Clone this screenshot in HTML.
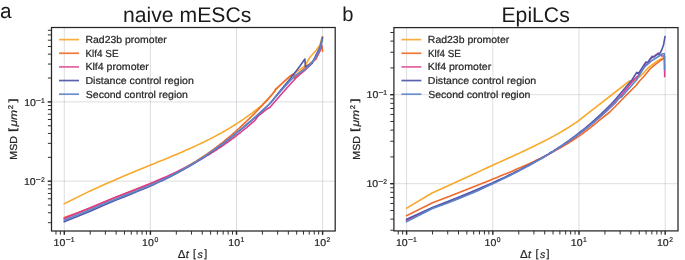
<!DOCTYPE html>
<html><head><meta charset="utf-8"><style>html,body{margin:0;padding:0;background:#fff;overflow:hidden}svg{display:block} .wrap{will-change:transform}</style></head>
<body><div class="wrap"><svg width="685" height="260" viewBox="0 0 685 260">
<rect width="685" height="260" fill="#fff"/>
<line x1="64.30" y1="27.50" x2="64.30" y2="231.00" stroke="#a0a4b0" stroke-opacity="0.36" stroke-width="1"/>
<line x1="150.40" y1="27.50" x2="150.40" y2="231.00" stroke="#a0a4b0" stroke-opacity="0.36" stroke-width="1"/>
<line x1="236.50" y1="27.50" x2="236.50" y2="231.00" stroke="#a0a4b0" stroke-opacity="0.36" stroke-width="1"/>
<line x1="322.60" y1="27.50" x2="322.60" y2="231.00" stroke="#a0a4b0" stroke-opacity="0.36" stroke-width="1"/>
<line x1="51.50" y1="181.20" x2="335.20" y2="181.20" stroke="#a0a4b0" stroke-opacity="0.36" stroke-width="1"/>
<line x1="51.50" y1="101.90" x2="335.20" y2="101.90" stroke="#a0a4b0" stroke-opacity="0.36" stroke-width="1"/>
<line x1="406.60" y1="27.60" x2="406.60" y2="230.90" stroke="#a0a4b0" stroke-opacity="0.36" stroke-width="1"/>
<line x1="492.80" y1="27.60" x2="492.80" y2="230.90" stroke="#a0a4b0" stroke-opacity="0.36" stroke-width="1"/>
<line x1="579.00" y1="27.60" x2="579.00" y2="230.90" stroke="#a0a4b0" stroke-opacity="0.36" stroke-width="1"/>
<line x1="665.20" y1="27.60" x2="665.20" y2="230.90" stroke="#a0a4b0" stroke-opacity="0.36" stroke-width="1"/>
<line x1="393.90" y1="183.70" x2="678.00" y2="183.70" stroke="#a0a4b0" stroke-opacity="0.36" stroke-width="1"/>
<line x1="393.90" y1="94.70" x2="678.00" y2="94.70" stroke="#a0a4b0" stroke-opacity="0.36" stroke-width="1"/>
<polyline points="64.3,203.8 90.2,190.9 105.4,184.1 116.1,179.4 124.5,175.8 131.3,173.0 137.1,170.6 142.1,168.5 146.5,166.7 150.4,165.1 154.0,163.7 157.2,162.3 160.2,161.1 163.0,160.0 165.6,158.9 168.0,157.9 170.2,156.9 172.4,156.0 174.4,155.2 176.3,154.4 179.9,152.9 183.1,151.5 186.1,150.1 188.9,148.9 191.5,147.8 193.9,146.7 196.2,145.6 198.3,144.6 200.3,143.7 202.2,142.7 204.1,141.9 205.8,141.0 207.5,140.2 209.1,139.4 210.6,138.6 212.0,137.9 213.5,137.1 214.8,136.4 216.1,135.7 217.4,135.0 218.6,134.4 219.8,133.7 221.0,133.1 222.1,132.5 223.2,131.8 224.2,131.2 225.2,130.7 226.2,130.1 227.2,129.5 228.2,129.0 229.1,128.4 230.0,127.9 230.9,127.3 231.7,126.8 232.6,126.3 233.4,125.8 234.2,125.3 235.0,124.8 235.7,124.3 236.5,123.8 238.3,122.6 240.1,121.5 241.7,120.4 243.3,119.3 244.8,118.2 246.3,117.2 247.7,116.2 249.1,115.2 250.4,114.2 251.7,113.3 252.9,112.4 254.1,111.4 255.2,110.6 256.3,109.7 257.4,108.8 258.5,108.0 259.5,107.1 260.5,106.3 261.5,105.5 262.0,105.1 272.0,94.5 280.0,85.0 290.0,77.0 296.0,72.4 300.0,69.5 305.0,65.5 310.0,57.2 316.0,50.5 320.0,45.0 322.3,36.5" fill="none" stroke="#f8a92b" stroke-width="1.6" stroke-linejoin="round" stroke-linecap="square"/>
<polyline points="64.3,217.5 90.2,208.3 105.4,201.5 116.1,197.2 124.5,194.0 131.3,191.5 137.1,189.3 142.1,187.4 146.5,185.6 150.4,184.0 154.0,182.6 157.2,181.2 160.2,179.9 163.0,178.7 165.6,177.5 168.0,176.4 170.2,175.3 172.4,174.2 174.4,173.2 176.3,172.3 179.9,170.4 183.1,168.7 186.1,167.0 188.9,165.4 191.5,163.9 193.9,162.5 196.2,161.1 198.3,159.7 200.3,158.4 202.2,157.2 204.1,156.0 205.8,154.8 207.5,153.6 209.1,152.5 210.6,151.4 212.0,150.4 213.5,149.3 214.8,148.3 216.1,147.4 217.4,146.4 218.6,145.5 219.8,144.5 221.0,143.6 222.1,142.8 223.2,141.9 224.2,141.0 225.2,140.2 226.2,139.4 227.2,138.6 228.2,137.8 229.1,137.0 230.0,136.3 230.9,135.5 231.7,134.8 232.6,134.1 233.4,133.4 234.2,132.7 235.0,132.0 235.7,131.3 236.5,130.6 238.3,129.0 240.1,127.4 241.7,125.9 243.3,124.4 244.8,122.9 246.3,121.5 247.7,120.2 249.1,118.9 250.4,117.6 251.7,116.3 252.9,115.1 254.1,113.9 255.2,112.7 256.3,111.6 257.4,110.5 258.5,109.4 259.5,108.3 260.5,107.3 261.5,106.3 262.4,105.3 263.3,104.3 264.2,103.3 265.1,102.4 266.0,101.5 266.8,100.5 267.0,100.4 272.0,94.5 275.0,90.8 275.4,89.3 280.0,85.5 285.0,80.5 290.0,76.0 294.0,73.8 294.4,78.5 300.0,72.0 305.0,67.5 310.0,63.5 316.0,59.0 320.0,51.0 321.8,45.0 322.6,51.0" fill="none" stroke="#ee6b2b" stroke-width="1.6" stroke-linejoin="round" stroke-linecap="square"/>
<polyline points="64.3,218.6 90.2,207.8 105.4,201.4 116.1,197.0 124.5,193.7 131.3,191.1 137.1,188.8 142.1,186.8 146.5,185.0 150.4,183.4 154.0,182.0 157.2,180.6 160.2,179.3 163.0,178.1 165.6,177.0 168.0,175.9 170.2,174.9 172.4,173.9 174.4,173.0 176.3,172.1 179.9,170.3 183.1,168.7 186.1,167.2 188.9,165.8 191.5,164.5 193.9,163.2 196.2,161.9 198.3,160.8 200.3,159.6 202.2,158.5 204.1,157.5 205.8,156.4 207.5,155.4 209.1,154.5 210.6,153.5 212.0,152.6 213.5,151.7 214.8,150.9 216.1,150.0 217.4,149.2 218.6,148.4 219.8,147.6 221.0,146.8 222.1,146.1 223.2,145.3 224.2,144.6 225.2,143.9 226.2,143.2 227.2,142.5 228.2,141.8 229.1,141.2 230.0,140.5 230.9,139.9 231.7,139.2 232.6,138.6 233.4,138.0 234.2,137.4 235.0,136.8 235.7,136.2 236.5,135.6 238.3,134.2 240.1,132.8 241.7,131.5 243.3,130.2 244.8,129.0 246.3,127.8 247.7,126.6 249.1,125.4 250.4,124.3 251.7,123.2 252.9,122.1 254.1,121.1 255.0,120.2 258.0,116.2 266.5,109.3 270.0,107.2 281.5,94.0 290.0,84.5 296.0,78.0 300.0,74.5 305.0,70.1 310.0,65.5 316.0,58.0 322.0,46.5" fill="none" stroke="#dd3c8c" stroke-width="1.6" stroke-linejoin="round" stroke-linecap="square"/>
<polyline points="64.3,221.7 90.2,211.2 105.4,204.4 116.1,200.0 124.5,196.7 131.3,193.9 137.1,191.6 142.1,189.5 146.5,187.7 150.4,186.0 154.0,184.4 157.2,182.9 160.2,181.5 163.0,180.2 165.6,179.0 168.0,177.8 170.2,176.7 172.4,175.6 174.4,174.5 176.3,173.5 179.9,171.6 183.1,169.8 186.1,168.1 188.9,166.5 191.5,165.0 193.9,163.5 196.2,162.1 198.3,160.8 200.3,159.5 202.2,158.3 204.1,157.1 205.8,155.9 207.5,154.8 209.1,153.7 210.6,152.7 212.0,151.7 213.5,150.7 214.8,149.7 216.1,148.8 217.4,147.9 218.6,147.0 219.8,146.1 221.0,145.3 222.1,144.4 223.2,143.6 224.2,142.8 225.2,142.0 226.2,141.3 227.2,140.5 228.2,139.8 229.1,139.1 230.0,138.4 230.9,137.7 231.7,137.0 232.6,136.4 233.4,135.7 234.2,135.1 235.0,134.4 235.7,133.8 236.5,133.2 238.3,131.7 240.1,130.3 241.7,128.9 243.3,127.6 244.8,126.3 246.3,125.1 247.7,123.9 249.1,122.7 250.4,121.6 251.7,120.5 252.9,119.4 254.1,118.4 255.0,117.6 270.0,103.5 280.0,91.0 290.0,79.0 296.0,71.3 300.0,65.9 304.9,59.0 305.4,66.7 312.0,63.5 316.0,55.0 320.0,47.0 322.6,37.5" fill="none" stroke="#5257ad" stroke-width="1.6" stroke-linejoin="round" stroke-linecap="square"/>
<polyline points="64.3,220.3 90.2,209.8 105.4,203.2 116.1,198.9 124.5,195.6 131.3,193.0 137.1,190.7 142.1,188.7 146.5,186.9 150.4,185.2 154.0,183.7 157.2,182.2 160.2,180.9 163.0,179.6 165.6,178.4 168.0,177.2 170.2,176.1 172.4,175.0 174.4,174.0 176.3,173.0 179.9,171.1 183.1,169.3 186.1,167.6 188.9,166.1 191.5,164.5 193.9,163.1 196.2,161.7 198.3,160.4 200.3,159.1 202.2,157.9 204.1,156.7 205.8,155.5 207.5,154.4 209.1,153.3 210.6,152.3 212.0,151.2 213.5,150.3 214.8,149.3 216.1,148.4 217.4,147.4 218.6,146.6 219.8,145.7 221.0,144.8 222.1,144.0 223.2,143.2 224.2,142.4 225.2,141.6 226.2,140.9 227.2,140.1 228.2,139.4 229.1,138.7 230.0,138.0 230.9,137.3 231.7,136.6 232.6,135.9 233.4,135.3 234.2,134.6 235.0,134.0 235.7,133.4 236.5,132.8 238.3,131.3 240.1,129.8 241.7,128.5 243.3,127.1 244.8,125.9 246.3,124.6 247.7,123.4 249.1,122.2 250.4,121.1 251.7,120.0 252.9,119.0 254.1,117.9 255.0,117.1 270.0,103.5 280.0,92.0 290.0,81.0 296.0,75.0 300.0,72.5 305.0,69.6 310.0,65.0 316.0,57.0 320.0,49.0 322.5,40.0" fill="none" stroke="#5b86c9" stroke-width="1.6" stroke-linejoin="round" stroke-linecap="square"/>
<polyline points="406.6,208.2 432.5,192.8 447.7,186.1 458.5,181.1 466.9,177.2 473.7,174.1 479.4,171.4 484.4,169.1 488.9,167.0 492.8,165.2 496.4,163.6 499.6,162.1 502.6,160.7 505.4,159.5 508.0,158.3 510.4,157.2 512.7,156.2 514.8,155.2 516.8,154.2 518.7,153.4 522.3,151.7 525.6,150.2 528.6,148.8 531.3,147.4 533.9,146.2 536.3,145.0 538.6,143.9 540.8,142.8 542.8,141.8 544.7,140.8 546.5,139.9 548.3,139.0 549.9,138.1 551.5,137.2 553.1,136.4 554.5,135.6 555.9,134.8 557.3,134.1 558.6,133.3 559.9,132.6 561.1,131.9 562.3,131.2 563.4,130.5 564.6,129.8 565.6,129.2 566.7,128.5 567.7,127.9 568.7,127.3 569.7,126.6 570.6,126.0 571.6,125.4 572.5,124.8 573.4,124.3 574.2,123.7 575.1,123.1 575.9,122.6 576.7,122.0 577.0,121.8 629.5,81.0 632.0,81.5 640.6,76.0 648.0,68.0 656.0,62.0 660.0,59.4 664.5,57.0" fill="none" stroke="#f8a92b" stroke-width="1.6" stroke-linejoin="round" stroke-linecap="square"/>
<polyline points="406.6,215.6 432.5,202.8 447.7,197.0 458.5,192.8 466.9,189.5 473.7,186.8 479.4,184.5 484.4,182.5 488.9,180.7 492.8,179.1 496.4,177.7 499.6,176.3 502.6,175.1 505.4,174.0 508.0,172.9 510.4,171.9 512.7,170.9 514.8,170.0 516.8,169.1 518.7,168.3 522.3,166.7 525.6,165.3 528.6,163.9 531.3,162.7 533.9,161.5 536.3,160.3 538.6,159.2 540.8,158.2 542.8,157.2 544.7,156.2 546.5,155.3 548.3,154.4 549.9,153.6 551.5,152.7 553.1,151.9 554.5,151.1 555.9,150.3 557.3,149.6 558.6,148.8 559.9,148.1 561.1,147.4 562.3,146.7 563.4,146.0 564.6,145.4 565.6,144.7 566.7,144.1 567.7,143.5 568.7,142.8 569.7,142.2 570.6,141.6 571.6,141.0 572.5,140.5 573.4,139.9 574.2,139.3 575.1,138.8 575.9,138.2 576.7,137.7 577.5,137.1 578.2,136.6 579.0,136.1 580.8,134.8 582.6,133.6 584.2,132.3 585.8,131.2 587.4,130.0 588.8,128.9 590.2,127.8 591.6,126.7 592.9,125.6 594.2,124.6 595.4,123.6 596.6,122.6 597.7,121.6 598.0,121.4 609.8,112.0 617.5,104.3 625.0,96.5 636.0,85.5 639.0,81.5 643.4,77.0 650.0,69.0 656.0,64.0 660.0,60.8 664.5,58.0" fill="none" stroke="#ee6b2b" stroke-width="1.6" stroke-linejoin="round" stroke-linecap="square"/>
<polyline points="406.6,220.3 432.5,207.9 447.7,202.4 458.5,198.2 466.9,194.7 473.7,191.8 479.4,189.3 484.4,187.0 488.9,185.0 492.8,183.2 496.4,181.6 499.6,180.0 502.6,178.6 505.4,177.3 508.0,176.0 510.4,174.8 512.7,173.7 514.8,172.6 516.8,171.6 518.7,170.6 522.3,168.8 525.6,167.1 528.6,165.5 531.3,164.0 533.9,162.6 536.3,161.3 538.6,160.0 540.8,158.8 542.8,157.7 544.7,156.6 546.5,155.5 548.3,154.5 549.9,153.5 551.5,152.5 553.1,151.6 554.5,150.7 555.9,149.8 557.3,149.0 558.6,148.2 559.9,147.3 561.1,146.6 562.3,145.8 563.4,145.0 564.6,144.3 565.6,143.6 566.7,142.9 567.7,142.2 568.7,141.5 569.7,140.8 570.6,140.2 571.6,139.5 572.5,138.9 573.4,138.2 574.2,137.6 575.1,137.0 575.9,136.4 576.7,135.8 577.5,135.3 578.2,134.7 579.0,134.1 580.8,132.8 582.6,131.4 584.2,130.1 585.8,128.9 587.4,127.7 588.8,126.5 590.2,125.3 591.6,124.2 592.9,123.1 594.2,122.0 595.4,120.9 596.6,119.9 597.7,118.9 598.9,117.9 599.9,116.9 601.0,115.9 602.0,115.0 603.0,114.1 604.0,113.1 604.9,112.2 605.9,111.4 606.8,110.5 607.7,109.6 608.5,108.8 609.4,107.9 610.2,107.1 611.0,106.3 611.8,105.5 612.5,104.7 613.3,103.9 614.0,103.1 614.8,102.4 615.5,101.6 616.0,101.1 620.0,96.8 633.7,80.0 637.8,76.0 644.0,67.5 646.0,64.5 648.0,63.5 650.0,60.0 652.0,56.2 654.0,57.0 656.0,55.0 658.0,53.2 660.0,55.0 662.0,56.0 664.4,56.0 664.7,76.5" fill="none" stroke="#dd3c8c" stroke-width="1.6" stroke-linejoin="round" stroke-linecap="square"/>
<polyline points="406.6,219.3 432.5,207.4 447.7,201.5 458.5,197.2 466.9,193.8 473.7,190.9 479.4,188.5 484.4,186.3 488.9,184.4 492.8,182.7 496.4,181.0 499.6,179.6 502.6,178.2 505.4,176.9 508.0,175.6 510.4,174.5 512.7,173.4 514.8,172.3 516.8,171.3 518.7,170.4 522.3,168.5 525.6,166.8 528.6,165.3 531.3,163.8 533.9,162.4 536.3,161.0 538.6,159.7 540.8,158.5 542.8,157.3 544.7,156.2 546.5,155.1 548.3,154.1 549.9,153.0 551.5,152.0 553.1,151.1 554.5,150.2 555.9,149.3 557.3,148.4 558.6,147.5 559.9,146.7 561.1,145.9 562.3,145.1 563.4,144.3 564.6,143.5 565.6,142.8 566.7,142.0 567.7,141.3 568.7,140.6 569.7,139.9 570.6,139.2 571.6,138.5 572.5,137.9 573.4,137.2 574.2,136.6 575.1,136.0 575.9,135.3 576.7,134.7 577.5,134.1 578.2,133.5 579.0,132.9 580.8,131.5 582.6,130.1 584.2,128.8 585.8,127.5 587.4,126.2 588.8,125.0 590.2,123.8 591.6,122.6 592.9,121.4 594.2,120.3 595.4,119.2 596.6,118.1 597.7,117.1 598.9,116.1 599.9,115.0 601.0,114.1 602.0,113.1 603.0,112.1 604.0,111.2 604.9,110.2 605.9,109.3 606.8,108.4 607.7,107.6 608.5,106.7 609.4,105.8 610.2,105.0 611.0,104.2 611.8,103.3 612.5,102.5 613.3,101.7 614.0,100.9 614.8,100.2 615.5,99.4 616.0,98.8 624.0,89.3 631.9,80.0 636.9,72.3 638.5,73.5 644.0,65.0 646.0,62.0 648.0,62.3 650.0,59.0 652.0,57.5 654.0,56.5 656.0,55.0 658.0,54.5 660.0,53.0 661.5,50.5 663.5,45.0 665.0,36.7" fill="none" stroke="#5257ad" stroke-width="1.6" stroke-linejoin="round" stroke-linecap="square"/>
<polyline points="406.6,221.6 432.5,208.5 447.7,203.0 458.5,198.7 466.9,195.3 473.7,192.4 479.4,189.9 484.4,187.6 488.9,185.6 492.8,183.8 496.4,182.1 499.6,180.6 502.6,179.1 505.4,177.8 508.0,176.5 510.4,175.3 512.7,174.1 514.8,173.1 516.8,172.0 518.7,171.0 522.3,169.1 525.6,167.4 528.6,165.8 531.3,164.2 533.9,162.8 536.3,161.4 538.6,160.1 540.8,158.9 542.8,157.7 544.7,156.6 546.5,155.5 548.3,154.4 549.9,153.4 551.5,152.4 553.1,151.5 554.5,150.6 555.9,149.7 557.3,148.8 558.6,147.9 559.9,147.1 561.1,146.3 562.3,145.5 563.4,144.8 564.6,144.0 565.6,143.3 566.7,142.6 567.7,141.9 568.7,141.2 569.7,140.5 570.6,139.8 571.6,139.2 572.5,138.6 573.4,137.9 574.2,137.3 575.1,136.7 575.9,136.1 576.7,135.5 577.5,134.9 578.2,134.4 579.0,133.8 580.8,132.5 582.6,131.1 584.2,129.9 585.8,128.6 587.4,127.4 588.8,126.3 590.2,125.1 591.6,124.0 592.9,123.0 594.2,121.9 595.4,120.9 596.6,119.9 597.7,118.9 598.9,118.0 599.9,117.0 601.0,116.1 602.0,115.2 603.0,114.3 604.0,113.4 604.9,112.6 605.9,111.8 606.8,110.9 607.7,110.1 608.5,109.3 609.4,108.5 610.2,107.8 611.0,107.0 611.8,106.3 612.5,105.5 613.3,104.8 614.0,104.1 614.8,103.4 615.5,102.7 616.0,102.1 620.3,97.1 621.0,97.5 636.5,80.0 638.8,76.0 644.0,67.5 648.0,63.8 652.0,60.5 656.0,58.0 660.0,55.5 662.0,54.0 664.3,53.5 664.6,69.4" fill="none" stroke="#5b86c9" stroke-width="1.6" stroke-linejoin="round" stroke-linecap="square"/>
<rect x="51.50" y="27.50" width="283.70" height="203.50" fill="none" stroke="#262626" stroke-width="1.25"/>
<line x1="55.96" y1="231.00" x2="55.96" y2="234.60" stroke="#262626" stroke-width="0.95"/>
<line x1="60.36" y1="231.00" x2="60.36" y2="234.60" stroke="#262626" stroke-width="0.95"/>
<line x1="64.30" y1="231.00" x2="64.30" y2="234.80" stroke="#262626" stroke-width="1.45"/>
<line x1="90.22" y1="231.00" x2="90.22" y2="234.60" stroke="#262626" stroke-width="0.95"/>
<line x1="105.38" y1="231.00" x2="105.38" y2="234.60" stroke="#262626" stroke-width="0.95"/>
<line x1="116.14" y1="231.00" x2="116.14" y2="234.60" stroke="#262626" stroke-width="0.95"/>
<line x1="124.48" y1="231.00" x2="124.48" y2="234.60" stroke="#262626" stroke-width="0.95"/>
<line x1="131.30" y1="231.00" x2="131.30" y2="234.60" stroke="#262626" stroke-width="0.95"/>
<line x1="137.06" y1="231.00" x2="137.06" y2="234.60" stroke="#262626" stroke-width="0.95"/>
<line x1="142.06" y1="231.00" x2="142.06" y2="234.60" stroke="#262626" stroke-width="0.95"/>
<line x1="146.46" y1="231.00" x2="146.46" y2="234.60" stroke="#262626" stroke-width="0.95"/>
<line x1="150.40" y1="231.00" x2="150.40" y2="234.80" stroke="#262626" stroke-width="1.45"/>
<line x1="176.32" y1="231.00" x2="176.32" y2="234.60" stroke="#262626" stroke-width="0.95"/>
<line x1="191.48" y1="231.00" x2="191.48" y2="234.60" stroke="#262626" stroke-width="0.95"/>
<line x1="202.24" y1="231.00" x2="202.24" y2="234.60" stroke="#262626" stroke-width="0.95"/>
<line x1="210.58" y1="231.00" x2="210.58" y2="234.60" stroke="#262626" stroke-width="0.95"/>
<line x1="217.40" y1="231.00" x2="217.40" y2="234.60" stroke="#262626" stroke-width="0.95"/>
<line x1="223.16" y1="231.00" x2="223.16" y2="234.60" stroke="#262626" stroke-width="0.95"/>
<line x1="228.16" y1="231.00" x2="228.16" y2="234.60" stroke="#262626" stroke-width="0.95"/>
<line x1="232.56" y1="231.00" x2="232.56" y2="234.60" stroke="#262626" stroke-width="0.95"/>
<line x1="236.50" y1="231.00" x2="236.50" y2="234.80" stroke="#262626" stroke-width="1.45"/>
<line x1="262.42" y1="231.00" x2="262.42" y2="234.60" stroke="#262626" stroke-width="0.95"/>
<line x1="277.58" y1="231.00" x2="277.58" y2="234.60" stroke="#262626" stroke-width="0.95"/>
<line x1="288.34" y1="231.00" x2="288.34" y2="234.60" stroke="#262626" stroke-width="0.95"/>
<line x1="296.68" y1="231.00" x2="296.68" y2="234.60" stroke="#262626" stroke-width="0.95"/>
<line x1="303.50" y1="231.00" x2="303.50" y2="234.60" stroke="#262626" stroke-width="0.95"/>
<line x1="309.26" y1="231.00" x2="309.26" y2="234.60" stroke="#262626" stroke-width="0.95"/>
<line x1="314.26" y1="231.00" x2="314.26" y2="234.60" stroke="#262626" stroke-width="0.95"/>
<line x1="318.66" y1="231.00" x2="318.66" y2="234.60" stroke="#262626" stroke-width="0.95"/>
<line x1="322.60" y1="231.00" x2="322.60" y2="234.80" stroke="#262626" stroke-width="1.45"/>
<line x1="51.50" y1="222.66" x2="47.90" y2="222.66" stroke="#262626" stroke-width="0.95"/>
<line x1="51.50" y1="212.76" x2="47.90" y2="212.76" stroke="#262626" stroke-width="0.95"/>
<line x1="51.50" y1="205.07" x2="47.90" y2="205.07" stroke="#262626" stroke-width="0.95"/>
<line x1="51.50" y1="198.79" x2="47.90" y2="198.79" stroke="#262626" stroke-width="0.95"/>
<line x1="51.50" y1="193.48" x2="47.90" y2="193.48" stroke="#262626" stroke-width="0.95"/>
<line x1="51.50" y1="188.88" x2="47.90" y2="188.88" stroke="#262626" stroke-width="0.95"/>
<line x1="51.50" y1="184.83" x2="47.90" y2="184.83" stroke="#262626" stroke-width="0.95"/>
<line x1="51.50" y1="181.20" x2="47.70" y2="181.20" stroke="#262626" stroke-width="1.45"/>
<line x1="51.50" y1="157.33" x2="47.90" y2="157.33" stroke="#262626" stroke-width="0.95"/>
<line x1="51.50" y1="143.36" x2="47.90" y2="143.36" stroke="#262626" stroke-width="0.95"/>
<line x1="51.50" y1="133.46" x2="47.90" y2="133.46" stroke="#262626" stroke-width="0.95"/>
<line x1="51.50" y1="125.77" x2="47.90" y2="125.77" stroke="#262626" stroke-width="0.95"/>
<line x1="51.50" y1="119.49" x2="47.90" y2="119.49" stroke="#262626" stroke-width="0.95"/>
<line x1="51.50" y1="114.18" x2="47.90" y2="114.18" stroke="#262626" stroke-width="0.95"/>
<line x1="51.50" y1="109.58" x2="47.90" y2="109.58" stroke="#262626" stroke-width="0.95"/>
<line x1="51.50" y1="105.53" x2="47.90" y2="105.53" stroke="#262626" stroke-width="0.95"/>
<line x1="51.50" y1="101.90" x2="47.70" y2="101.90" stroke="#262626" stroke-width="1.45"/>
<line x1="51.50" y1="78.03" x2="47.90" y2="78.03" stroke="#262626" stroke-width="0.95"/>
<line x1="51.50" y1="64.06" x2="47.90" y2="64.06" stroke="#262626" stroke-width="0.95"/>
<line x1="51.50" y1="54.16" x2="47.90" y2="54.16" stroke="#262626" stroke-width="0.95"/>
<line x1="51.50" y1="46.47" x2="47.90" y2="46.47" stroke="#262626" stroke-width="0.95"/>
<line x1="51.50" y1="40.19" x2="47.90" y2="40.19" stroke="#262626" stroke-width="0.95"/>
<line x1="51.50" y1="34.88" x2="47.90" y2="34.88" stroke="#262626" stroke-width="0.95"/>
<line x1="51.50" y1="30.28" x2="47.90" y2="30.28" stroke="#262626" stroke-width="0.95"/>
<text font-family="Liberation Sans, sans-serif" font-size="10.0" fill="#262626" transform="translate(53.62,245.60) scale(1.06,1) skewX(0.05)" stroke="#262626" stroke-width="0.22">10</text>
<text font-family="Liberation Sans, sans-serif" font-size="7.0" fill="#262626" transform="translate(65.78,241.80) scale(1.22,1) skewX(0.05)" stroke="#262626" stroke-width="0.22">−</text>
<text font-family="Liberation Sans, sans-serif" font-size="7.0" fill="#262626" transform="translate(70.73,241.80) scale(0.97,1) skewX(0.05)" stroke="#262626" stroke-width="0.22">1</text>
<text font-family="Liberation Sans, sans-serif" font-size="10.0" fill="#262626" transform="translate(142.09,245.60) scale(1.06,1) skewX(0.05)" stroke="#262626" stroke-width="0.22">10</text>
<text font-family="Liberation Sans, sans-serif" font-size="7.0" fill="#262626" transform="translate(154.40,241.80) scale(0.97,1) skewX(0.05)" stroke="#262626" stroke-width="0.22">0</text>
<text font-family="Liberation Sans, sans-serif" font-size="10.0" fill="#262626" transform="translate(228.35,245.60) scale(1.06,1) skewX(0.05)" stroke="#262626" stroke-width="0.22">10</text>
<text font-family="Liberation Sans, sans-serif" font-size="7.0" fill="#262626" transform="translate(240.40,241.80) scale(0.97,1) skewX(0.05)" stroke="#262626" stroke-width="0.22">1</text>
<text font-family="Liberation Sans, sans-serif" font-size="10.0" fill="#262626" transform="translate(314.36,245.60) scale(1.06,1) skewX(0.05)" stroke="#262626" stroke-width="0.22">10</text>
<text font-family="Liberation Sans, sans-serif" font-size="7.0" fill="#262626" transform="translate(326.60,241.80) scale(0.97,1) skewX(0.05)" stroke="#262626" stroke-width="0.22">2</text>
<text font-family="Liberation Sans, sans-serif" font-size="10.0" fill="#262626" transform="translate(24.15,105.65) scale(1.06,1) skewX(0.05)" stroke="#262626" stroke-width="0.22">10</text>
<text font-family="Liberation Sans, sans-serif" font-size="7.0" fill="#262626" transform="translate(36.00,102.50) scale(1.22,1) skewX(0.05)" stroke="#262626" stroke-width="0.22">−</text>
<text font-family="Liberation Sans, sans-serif" font-size="7.0" fill="#262626" transform="translate(40.96,102.50) scale(0.97,1) skewX(0.05)" stroke="#262626" stroke-width="0.22">1</text>
<text font-family="Liberation Sans, sans-serif" font-size="10.0" fill="#262626" transform="translate(23.98,184.95) scale(1.06,1) skewX(0.05)" stroke="#262626" stroke-width="0.22">10</text>
<text font-family="Liberation Sans, sans-serif" font-size="7.0" fill="#262626" transform="translate(35.83,181.80) scale(1.22,1) skewX(0.05)" stroke="#262626" stroke-width="0.22">−</text>
<text font-family="Liberation Sans, sans-serif" font-size="7.0" fill="#262626" transform="translate(40.96,181.80) scale(0.97,1) skewX(0.05)" stroke="#262626" stroke-width="0.22">2</text>
<rect x="393.90" y="27.60" width="284.10" height="203.30" fill="none" stroke="#262626" stroke-width="1.25"/>
<line x1="398.25" y1="230.90" x2="398.25" y2="234.50" stroke="#262626" stroke-width="0.95"/>
<line x1="402.66" y1="230.90" x2="402.66" y2="234.50" stroke="#262626" stroke-width="0.95"/>
<line x1="406.60" y1="230.90" x2="406.60" y2="234.70" stroke="#262626" stroke-width="1.45"/>
<line x1="432.55" y1="230.90" x2="432.55" y2="234.50" stroke="#262626" stroke-width="0.95"/>
<line x1="447.73" y1="230.90" x2="447.73" y2="234.50" stroke="#262626" stroke-width="0.95"/>
<line x1="458.50" y1="230.90" x2="458.50" y2="234.50" stroke="#262626" stroke-width="0.95"/>
<line x1="466.85" y1="230.90" x2="466.85" y2="234.50" stroke="#262626" stroke-width="0.95"/>
<line x1="473.68" y1="230.90" x2="473.68" y2="234.50" stroke="#262626" stroke-width="0.95"/>
<line x1="479.45" y1="230.90" x2="479.45" y2="234.50" stroke="#262626" stroke-width="0.95"/>
<line x1="484.45" y1="230.90" x2="484.45" y2="234.50" stroke="#262626" stroke-width="0.95"/>
<line x1="488.86" y1="230.90" x2="488.86" y2="234.50" stroke="#262626" stroke-width="0.95"/>
<line x1="492.80" y1="230.90" x2="492.80" y2="234.70" stroke="#262626" stroke-width="1.45"/>
<line x1="518.75" y1="230.90" x2="518.75" y2="234.50" stroke="#262626" stroke-width="0.95"/>
<line x1="533.93" y1="230.90" x2="533.93" y2="234.50" stroke="#262626" stroke-width="0.95"/>
<line x1="544.70" y1="230.90" x2="544.70" y2="234.50" stroke="#262626" stroke-width="0.95"/>
<line x1="553.05" y1="230.90" x2="553.05" y2="234.50" stroke="#262626" stroke-width="0.95"/>
<line x1="559.88" y1="230.90" x2="559.88" y2="234.50" stroke="#262626" stroke-width="0.95"/>
<line x1="565.65" y1="230.90" x2="565.65" y2="234.50" stroke="#262626" stroke-width="0.95"/>
<line x1="570.65" y1="230.90" x2="570.65" y2="234.50" stroke="#262626" stroke-width="0.95"/>
<line x1="575.06" y1="230.90" x2="575.06" y2="234.50" stroke="#262626" stroke-width="0.95"/>
<line x1="579.00" y1="230.90" x2="579.00" y2="234.70" stroke="#262626" stroke-width="1.45"/>
<line x1="604.95" y1="230.90" x2="604.95" y2="234.50" stroke="#262626" stroke-width="0.95"/>
<line x1="620.13" y1="230.90" x2="620.13" y2="234.50" stroke="#262626" stroke-width="0.95"/>
<line x1="630.90" y1="230.90" x2="630.90" y2="234.50" stroke="#262626" stroke-width="0.95"/>
<line x1="639.25" y1="230.90" x2="639.25" y2="234.50" stroke="#262626" stroke-width="0.95"/>
<line x1="646.08" y1="230.90" x2="646.08" y2="234.50" stroke="#262626" stroke-width="0.95"/>
<line x1="651.85" y1="230.90" x2="651.85" y2="234.50" stroke="#262626" stroke-width="0.95"/>
<line x1="656.85" y1="230.90" x2="656.85" y2="234.50" stroke="#262626" stroke-width="0.95"/>
<line x1="661.26" y1="230.90" x2="661.26" y2="234.50" stroke="#262626" stroke-width="0.95"/>
<line x1="665.20" y1="230.90" x2="665.20" y2="234.70" stroke="#262626" stroke-width="1.45"/>
<line x1="393.90" y1="230.24" x2="390.30" y2="230.24" stroke="#262626" stroke-width="0.95"/>
<line x1="393.90" y1="219.12" x2="390.30" y2="219.12" stroke="#262626" stroke-width="0.95"/>
<line x1="393.90" y1="210.49" x2="390.30" y2="210.49" stroke="#262626" stroke-width="0.95"/>
<line x1="393.90" y1="203.44" x2="390.30" y2="203.44" stroke="#262626" stroke-width="0.95"/>
<line x1="393.90" y1="197.49" x2="390.30" y2="197.49" stroke="#262626" stroke-width="0.95"/>
<line x1="393.90" y1="192.32" x2="390.30" y2="192.32" stroke="#262626" stroke-width="0.95"/>
<line x1="393.90" y1="187.77" x2="390.30" y2="187.77" stroke="#262626" stroke-width="0.95"/>
<line x1="393.90" y1="183.70" x2="390.10" y2="183.70" stroke="#262626" stroke-width="1.45"/>
<line x1="393.90" y1="156.91" x2="390.30" y2="156.91" stroke="#262626" stroke-width="0.95"/>
<line x1="393.90" y1="141.24" x2="390.30" y2="141.24" stroke="#262626" stroke-width="0.95"/>
<line x1="393.90" y1="130.12" x2="390.30" y2="130.12" stroke="#262626" stroke-width="0.95"/>
<line x1="393.90" y1="121.49" x2="390.30" y2="121.49" stroke="#262626" stroke-width="0.95"/>
<line x1="393.90" y1="114.44" x2="390.30" y2="114.44" stroke="#262626" stroke-width="0.95"/>
<line x1="393.90" y1="108.49" x2="390.30" y2="108.49" stroke="#262626" stroke-width="0.95"/>
<line x1="393.90" y1="103.32" x2="390.30" y2="103.32" stroke="#262626" stroke-width="0.95"/>
<line x1="393.90" y1="98.77" x2="390.30" y2="98.77" stroke="#262626" stroke-width="0.95"/>
<line x1="393.90" y1="94.70" x2="390.10" y2="94.70" stroke="#262626" stroke-width="1.45"/>
<line x1="393.90" y1="67.91" x2="390.30" y2="67.91" stroke="#262626" stroke-width="0.95"/>
<line x1="393.90" y1="52.24" x2="390.30" y2="52.24" stroke="#262626" stroke-width="0.95"/>
<line x1="393.90" y1="41.12" x2="390.30" y2="41.12" stroke="#262626" stroke-width="0.95"/>
<line x1="393.90" y1="32.49" x2="390.30" y2="32.49" stroke="#262626" stroke-width="0.95"/>
<text font-family="Liberation Sans, sans-serif" font-size="10.0" fill="#262626" transform="translate(395.92,245.60) scale(1.06,1) skewX(0.05)" stroke="#262626" stroke-width="0.22">10</text>
<text font-family="Liberation Sans, sans-serif" font-size="7.0" fill="#262626" transform="translate(408.08,241.80) scale(1.22,1) skewX(0.05)" stroke="#262626" stroke-width="0.22">−</text>
<text font-family="Liberation Sans, sans-serif" font-size="7.0" fill="#262626" transform="translate(413.03,241.80) scale(0.97,1) skewX(0.05)" stroke="#262626" stroke-width="0.22">1</text>
<text font-family="Liberation Sans, sans-serif" font-size="10.0" fill="#262626" transform="translate(484.49,245.60) scale(1.06,1) skewX(0.05)" stroke="#262626" stroke-width="0.22">10</text>
<text font-family="Liberation Sans, sans-serif" font-size="7.0" fill="#262626" transform="translate(496.80,241.80) scale(0.97,1) skewX(0.05)" stroke="#262626" stroke-width="0.22">0</text>
<text font-family="Liberation Sans, sans-serif" font-size="10.0" fill="#262626" transform="translate(570.85,245.60) scale(1.06,1) skewX(0.05)" stroke="#262626" stroke-width="0.22">10</text>
<text font-family="Liberation Sans, sans-serif" font-size="7.0" fill="#262626" transform="translate(582.90,241.80) scale(0.97,1) skewX(0.05)" stroke="#262626" stroke-width="0.22">1</text>
<text font-family="Liberation Sans, sans-serif" font-size="10.0" fill="#262626" transform="translate(656.96,245.60) scale(1.06,1) skewX(0.05)" stroke="#262626" stroke-width="0.22">10</text>
<text font-family="Liberation Sans, sans-serif" font-size="7.0" fill="#262626" transform="translate(669.20,241.80) scale(0.97,1) skewX(0.05)" stroke="#262626" stroke-width="0.22">2</text>
<text font-family="Liberation Sans, sans-serif" font-size="10.0" fill="#262626" transform="translate(366.55,98.45) scale(1.06,1) skewX(0.05)" stroke="#262626" stroke-width="0.22">10</text>
<text font-family="Liberation Sans, sans-serif" font-size="7.0" fill="#262626" transform="translate(378.40,95.30) scale(1.22,1) skewX(0.05)" stroke="#262626" stroke-width="0.22">−</text>
<text font-family="Liberation Sans, sans-serif" font-size="7.0" fill="#262626" transform="translate(383.36,95.30) scale(0.97,1) skewX(0.05)" stroke="#262626" stroke-width="0.22">1</text>
<text font-family="Liberation Sans, sans-serif" font-size="10.0" fill="#262626" transform="translate(366.38,187.45) scale(1.06,1) skewX(0.05)" stroke="#262626" stroke-width="0.22">10</text>
<text font-family="Liberation Sans, sans-serif" font-size="7.0" fill="#262626" transform="translate(378.23,184.30) scale(1.22,1) skewX(0.05)" stroke="#262626" stroke-width="0.22">−</text>
<text font-family="Liberation Sans, sans-serif" font-size="7.0" fill="#262626" transform="translate(383.36,184.30) scale(0.97,1) skewX(0.05)" stroke="#262626" stroke-width="0.22">2</text>
<line x1="59.00" y1="39.60" x2="79.00" y2="39.60" stroke="#f9ae3d" stroke-width="1.7"/>
<text font-family="Liberation Sans, sans-serif" font-size="10.2" fill="#262626" transform="translate(85.44,43.10) scale(1.0259,1) skewX(0.05)" stroke="#262626" stroke-width="0.22">Rad23b promoter</text>
<line x1="59.00" y1="53.25" x2="79.00" y2="53.25" stroke="#ef7a3a" stroke-width="1.7"/>
<text font-family="Liberation Sans, sans-serif" font-size="10.2" fill="#262626" transform="translate(85.49,56.75) scale(0.9712,1) skewX(0.05)" stroke="#262626" stroke-width="0.22">Klf4 SE</text>
<line x1="59.00" y1="66.90" x2="79.00" y2="66.90" stroke="#e2609f" stroke-width="1.7"/>
<text font-family="Liberation Sans, sans-serif" font-size="10.2" fill="#262626" transform="translate(85.43,70.40) scale(1.038,1) skewX(0.05)" stroke="#262626" stroke-width="0.22">Klf4 promoter</text>
<line x1="59.00" y1="80.55" x2="79.00" y2="80.55" stroke="#5b62ad" stroke-width="1.7"/>
<text font-family="Liberation Sans, sans-serif" font-size="10.2" fill="#262626" transform="translate(85.43,84.05) scale(1.0407,1) skewX(0.05)" stroke="#262626" stroke-width="0.22">Distance control region</text>
<line x1="59.00" y1="94.20" x2="79.00" y2="94.20" stroke="#6a8fcc" stroke-width="1.7"/>
<text font-family="Liberation Sans, sans-serif" font-size="10.2" fill="#262626" transform="translate(85.82,97.70) scale(1.0307,1) skewX(0.05)" stroke="#262626" stroke-width="0.22">Second control region</text>
<text font-family="Liberation Sans, sans-serif" font-size="11.6" fill="#262626" transform="translate(177.65,257.70) scale(1.0,1) skewX(0.05)" stroke="#262626" stroke-width="0.22">Δ</text>
<text font-family="Liberation Sans, sans-serif" font-size="10.8" font-style="italic" fill="#262626" transform="translate(185.71,257.70) scale(1.0,1) skewX(0.05)" stroke="#262626" stroke-width="0.22">t</text>
<text font-family="Liberation Sans, sans-serif" font-size="10.7" fill="#262626" transform="translate(193.04,257.30) scale(1.0,1) skewX(0.05)" stroke="#262626" stroke-width="0.22">[</text>
<text font-family="Liberation Sans, sans-serif" font-size="10.6" font-style="italic" fill="#262626" transform="translate(197.57,257.70) scale(1.0,1) skewX(0.05)" stroke="#262626" stroke-width="0.22">s</text>
<text font-family="Liberation Sans, sans-serif" font-size="10.7" fill="#262626" transform="translate(204.21,257.30) scale(1.0,1) skewX(0.05)" stroke="#262626" stroke-width="0.22">]</text>
<text font-family="Liberation Sans, sans-serif" font-size="10.2" fill="#262626" stroke="#262626" stroke-width="0.22" transform="translate(17.20,159.67) rotate(-90) scale(1.04,1) skewX(0.05)">MSD</text>
<text font-family="Liberation Sans, sans-serif" font-size="10.4" fill="#262626" stroke="#262626" stroke-width="0.22" transform="translate(16.00,132.03) rotate(-90) scale(1.4,1) skewX(0.05)">[</text>
<text font-family="Liberation Sans, sans-serif" font-size="10.4" font-style="italic" fill="#262626" stroke="#262626" stroke-width="0.22" transform="translate(16.60,126.54) rotate(-90) scale(1.17,1) skewX(0.05)">μm</text>
<text font-family="Liberation Sans, sans-serif" font-size="7.0" fill="#262626" stroke="#262626" stroke-width="0.22" transform="translate(12.60,109.19) rotate(-90) scale(1.1,1) skewX(0.05)">2</text>
<text font-family="Liberation Sans, sans-serif" font-size="10.4" fill="#262626" stroke="#262626" stroke-width="0.22" transform="translate(16.00,102.62) rotate(-90) scale(1.4,1) skewX(0.05)">]</text>
<line x1="401.40" y1="39.60" x2="421.40" y2="39.60" stroke="#f9ae3d" stroke-width="1.7"/>
<text font-family="Liberation Sans, sans-serif" font-size="10.2" fill="#262626" transform="translate(427.84,43.10) scale(1.0259,1) skewX(0.05)" stroke="#262626" stroke-width="0.22">Rad23b promoter</text>
<line x1="401.40" y1="53.25" x2="421.40" y2="53.25" stroke="#ef7a3a" stroke-width="1.7"/>
<text font-family="Liberation Sans, sans-serif" font-size="10.2" fill="#262626" transform="translate(427.89,56.75) scale(0.9712,1) skewX(0.05)" stroke="#262626" stroke-width="0.22">Klf4 SE</text>
<line x1="401.40" y1="66.90" x2="421.40" y2="66.90" stroke="#e2609f" stroke-width="1.7"/>
<text font-family="Liberation Sans, sans-serif" font-size="10.2" fill="#262626" transform="translate(427.83,70.40) scale(1.038,1) skewX(0.05)" stroke="#262626" stroke-width="0.22">Klf4 promoter</text>
<line x1="401.40" y1="80.55" x2="421.40" y2="80.55" stroke="#5b62ad" stroke-width="1.7"/>
<text font-family="Liberation Sans, sans-serif" font-size="10.2" fill="#262626" transform="translate(427.83,84.05) scale(1.0407,1) skewX(0.05)" stroke="#262626" stroke-width="0.22">Distance control region</text>
<line x1="401.40" y1="94.20" x2="421.40" y2="94.20" stroke="#6a8fcc" stroke-width="1.7"/>
<text font-family="Liberation Sans, sans-serif" font-size="10.2" fill="#262626" transform="translate(428.22,97.70) scale(1.0307,1) skewX(0.05)" stroke="#262626" stroke-width="0.22">Second control region</text>
<text font-family="Liberation Sans, sans-serif" font-size="11.6" fill="#262626" transform="translate(520.05,257.70) scale(1.0,1) skewX(0.05)" stroke="#262626" stroke-width="0.22">Δ</text>
<text font-family="Liberation Sans, sans-serif" font-size="10.8" font-style="italic" fill="#262626" transform="translate(528.11,257.70) scale(1.0,1) skewX(0.05)" stroke="#262626" stroke-width="0.22">t</text>
<text font-family="Liberation Sans, sans-serif" font-size="10.7" fill="#262626" transform="translate(535.44,257.30) scale(1.0,1) skewX(0.05)" stroke="#262626" stroke-width="0.22">[</text>
<text font-family="Liberation Sans, sans-serif" font-size="10.6" font-style="italic" fill="#262626" transform="translate(539.97,257.70) scale(1.0,1) skewX(0.05)" stroke="#262626" stroke-width="0.22">s</text>
<text font-family="Liberation Sans, sans-serif" font-size="10.7" fill="#262626" transform="translate(546.61,257.30) scale(1.0,1) skewX(0.05)" stroke="#262626" stroke-width="0.22">]</text>
<text font-family="Liberation Sans, sans-serif" font-size="10.2" fill="#262626" stroke="#262626" stroke-width="0.22" transform="translate(359.60,159.67) rotate(-90) scale(1.04,1) skewX(0.05)">MSD</text>
<text font-family="Liberation Sans, sans-serif" font-size="10.4" fill="#262626" stroke="#262626" stroke-width="0.22" transform="translate(358.40,132.03) rotate(-90) scale(1.4,1) skewX(0.05)">[</text>
<text font-family="Liberation Sans, sans-serif" font-size="10.4" font-style="italic" fill="#262626" stroke="#262626" stroke-width="0.22" transform="translate(359.00,126.54) rotate(-90) scale(1.17,1) skewX(0.05)">μm</text>
<text font-family="Liberation Sans, sans-serif" font-size="7.0" fill="#262626" stroke="#262626" stroke-width="0.22" transform="translate(355.00,109.19) rotate(-90) scale(1.1,1) skewX(0.05)">2</text>
<text font-family="Liberation Sans, sans-serif" font-size="10.4" fill="#262626" stroke="#262626" stroke-width="0.22" transform="translate(358.40,102.62) rotate(-90) scale(1.4,1) skewX(0.05)">]</text>
<text font-family="Liberation Sans, sans-serif" font-size="21.2" fill="#1a1a1a" transform="translate(123.00,21.90) scale(1.0,1) skewX(0.05)">naive mESCs</text>
<text font-family="Liberation Sans, sans-serif" font-size="21.2" fill="#1a1a1a" transform="translate(501.46,22.10) scale(1.0,1) skewX(0.05)">EpiLCs</text>
<text font-family="Liberation Sans, sans-serif" font-size="20.8" fill="#1a1a1a" transform="translate(0.03,18.10) scale(1.0,1) skewX(0.05)">a</text>
<text font-family="Liberation Sans, sans-serif" font-size="20.2" fill="#1a1a1a" transform="translate(342.19,21.00) scale(1.0,1) skewX(0.05)">b</text>
</svg></div></body></html>
